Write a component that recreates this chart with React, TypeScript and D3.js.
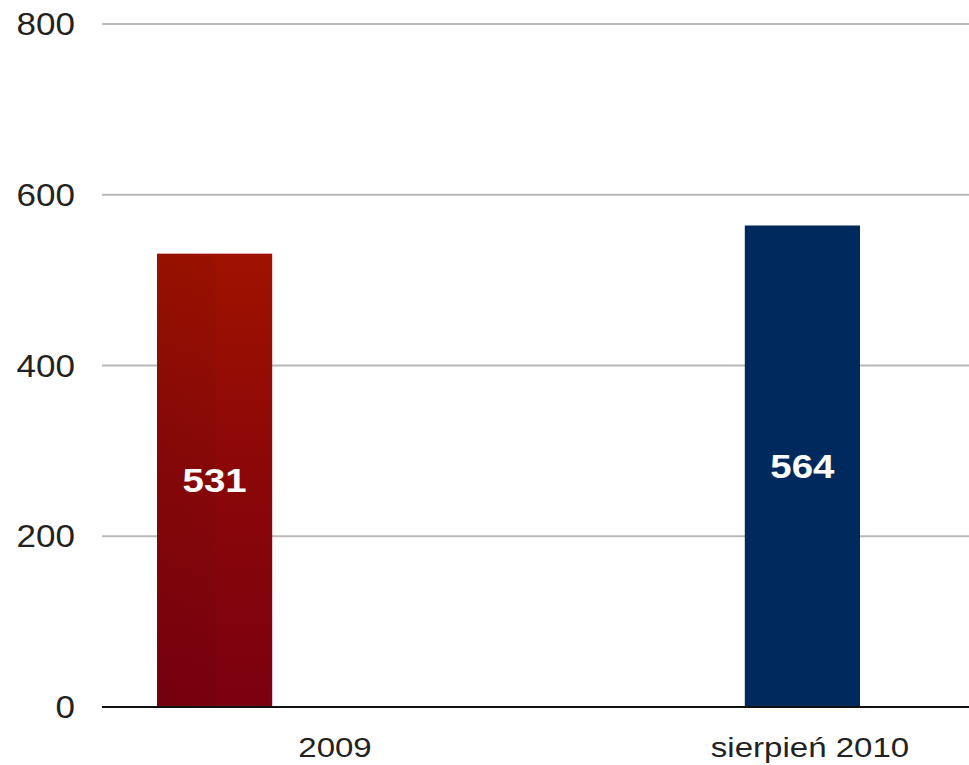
import React from 'react';
import * as d3 from 'd3';

const categories = ['2009', 'sierpień 2010'];
const values = [531, 564];
const yTicks = [0, 200, 400, 600, 800];

const W = 969;
const H = 765;

const App: React.FC = () => {
  const y = d3.scaleLinear().domain([0, 800]).range([707, 24]);
  // bar positions
  const x = d3.scaleBand<string>().domain(categories).range([157, 860]).paddingInner(0.804);
  // category labels sit a bit off the bars in the original
  const xLabel = d3.scalePoint<string>().domain(categories).range([335, 810]);

  const font = '"Liberation Sans", Arial, sans-serif';

  return (
    <svg width={W} height={H} style={{ position: 'absolute', left: 0, top: 0, background: '#fff' }}>
      <defs>
        <linearGradient id="redBar" x1="0" y1="0" x2="0" y2="1">
          <stop offset="0%" stopColor="#a01200" />
          <stop offset="45%" stopColor="#8c0808" />
          <stop offset="100%" stopColor="#7c0010" />
        </linearGradient>
        <linearGradient id="redShade" x1="0" y1="0" x2="1" y2="0">
          <stop offset="0%" stopColor="#000" stopOpacity={0.06} />
          <stop offset="50%" stopColor="#000" stopOpacity={0.04} />
          <stop offset="52%" stopColor="#000" stopOpacity={0} />
          <stop offset="100%" stopColor="#000" stopOpacity={0} />
        </linearGradient>
      </defs>

      {/* gridlines */}
      {yTicks.filter(t => t > 0).map(t => (
        <line key={t} x1={102} x2={W} y1={y(t)} y2={y(t)} stroke="#b8b8b8" strokeWidth={2} />
      ))}

      {/* y tick labels */}
      {yTicks.map(t => (
        <g key={t} transform={`translate(75, ${y(t) + 11}) scale(1.13, 1)`}>
          <text textAnchor="end" fontFamily={font} fontSize={31} fill="#222">{t}</text>
        </g>
      ))}

      {/* bars */}
      {categories.map((c, i) => {
        const x0 = x(c)!;
        const bw = x.bandwidth();
        const top = y(values[i]);
        const h = y(0) - top;
        return (
          <g key={c}>
            <rect x={x0} y={top} width={bw} height={h} fill={i === 0 ? 'url(#redBar)' : '#002a5e'} />
            {i === 0 && <rect x={x0} y={top} width={bw} height={h} fill="url(#redShade)" />}
            <g transform={`translate(${x0 + bw / 2}, ${top + h / 2 + 12}) scale(1.13, 1)`}>
              <text textAnchor="middle" fontFamily={font} fontSize={34} fontWeight="bold" fill="#fff">
                {values[i]}
              </text>
            </g>
          </g>
        );
      })}

      {/* x axis */}
      <line x1={102} x2={W} y1={y(0)} y2={y(0)} stroke="#111" strokeWidth={2} />

      {categories.map(c => (
        <g key={c} transform={`translate(${xLabel(c)}, 757) scale(1.18, 1)`}>
          <text textAnchor="middle" fontFamily={font} fontSize={28} fill="#222">{c}</text>
        </g>
      ))}
    </svg>
  );
};

export default App;
